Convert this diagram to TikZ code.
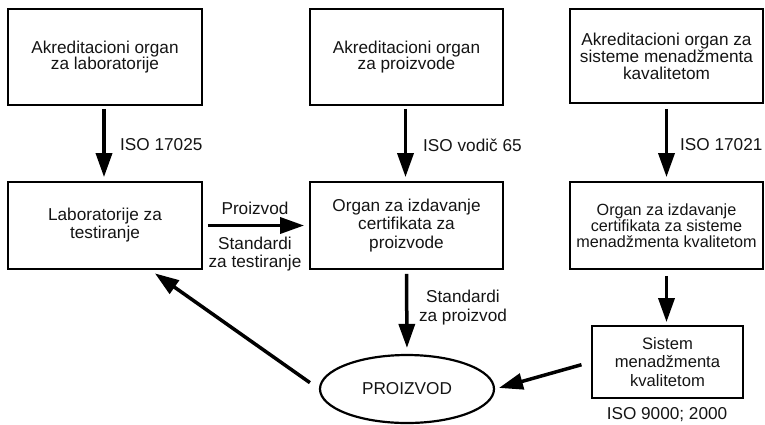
\documentclass[tikz,border=0pt]{standalone}
\usepackage{fontspec}
\setmainfont{Liberation Sans}
\usetikzlibrary{arrows.meta,shapes.geometric,calc}
\begin{document}
\begin{tikzpicture}[x=1pt,y=-1pt,
  txt/.style={font=\fontsize{17.2}{16.5}\selectfont, text=black!92, align=center},
  box/.style={txt, draw=black, line width=1.8pt, rectangle, inner sep=0pt},
  oval/.style={txt, draw=black, line width=2.2pt, ellipse, inner sep=0pt},
  lbl/.style={txt, inner sep=0pt},
  flow/.style={draw=black, line width=3.5pt, -{Triangle[length=24pt,width=16pt]}}]
\useasboundingbox (0,0) rectangle (765,424);

% accreditation bodies
\node[box, minimum width=194pt, minimum height=96pt] (b1) at (105,57)
  {Akreditacioni organ\\za laboratorije};
\node[box, minimum width=193pt, minimum height=96pt] (b2) at (406.5,57)
  {Akreditacioni organ\\za proizvode};
\node[box, minimum width=193pt, minimum height=94pt,
      font=\fontsize{17.2}{17}\selectfont] (b3) at (666.5,56)
  {Akreditacioni organ za\\sisteme menadžmenta\\kavalitetom};

% certification / testing bodies
\node[box, minimum width=194pt, minimum height=87pt,
      font=\fontsize{17.2}{18}\selectfont] (b4) at (105,225.5)
  {Laboratorije za\\testiranje};
\node[box, minimum width=193pt, minimum height=87pt,
      font=\fontsize{17.2}{18.5}\selectfont] (b5) at (406.5,225.5)
  {Organ za izdavanje\\certifikata za\\proizvode};
\node[box, minimum width=193pt, minimum height=87pt,
      font=\fontsize{16.2}{16}\selectfont] (b6) at (666.5,225.5)
  {Organ za izdavanje\\certifikata za sisteme\\menadžmenta kvalitetom};

% management system and product
\node[box, minimum width=151pt, minimum height=72pt,
      font=\fontsize{16.6}{18.5}\selectfont] (sis) at (667.5,362)
  {Sistem\\menadžmenta\\kvalitetom};
\node[oval, minimum width=174pt, minimum height=68pt] (ell) at (407,389)
  {PROIZVOD};

% labels
\node[lbl, anchor=west] (l1) at (120,145) {ISO 17025};
\node[lbl, anchor=west] (l2) at (423,145) {ISO vodič 65};
\node[lbl, anchor=west] (l3) at (680,145) {ISO 17021};
\node[lbl] (l4) at (255,208) {Proizvod};
\node[lbl, font=\fontsize{17.2}{18}\selectfont] (l5) at (255,254) {Standardi\\za testiranje};
\node[lbl, font=\fontsize{17.2}{19}\selectfont] (l6) at (463,307.5) {Standardi\\za proizvod};
\node[lbl] (l7) at (667,415) {ISO 9000; 2000};

% connectors
\draw[flow, shorten <=3pt, shorten >=4pt] ([xshift=-1pt]b1.south) -- ([xshift=-1pt]b4.north);
\draw[flow, shorten <=3pt, shorten >=4pt] ([xshift=-1pt]b2.south) -- ([xshift=-1pt]b5.north);
\draw[flow, shorten <=5pt, shorten >=4pt] (b3.south) -- (b6.north);
\draw[flow, shorten <=5pt, shorten >=5pt] (b4.east) -- (b5.west);
\draw[flow, shorten <=4pt, shorten >=6pt] (b5.south) -- (ell.north);
\draw[flow, shorten <=6pt, shorten >=3pt] (b6.south) -- (b6.south |- sis.north);
\draw[flow, shorten <=10pt, shorten >=4pt] (sis.west) -- (ell.east);
\draw[flow, shorten <=11pt, shorten >=6pt] (ell.west) -- ([xshift=45pt]b4.south);
\end{tikzpicture}
\end{document}
